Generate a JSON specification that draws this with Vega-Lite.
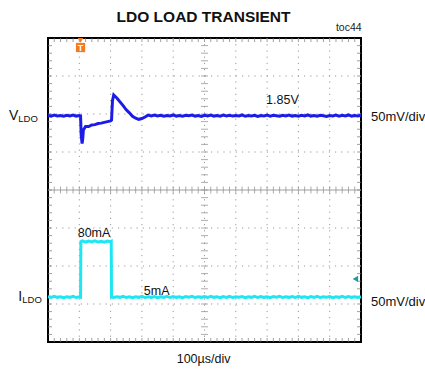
{
  "$schema": "https://vega.github.io/schema/vega-lite/v6.json",
  "width": 313,
  "height": 304,
  "autosize": {"type": "none"},
  "padding": {"left": 48, "top": 38, "right": 64, "bottom": 28},
  "background": "white",
  "config": {"view": {"stroke": "#000000", "strokeWidth": 2}, "font": "Liberation Sans"},
  "datasets": {
    "gx": [{"p": 1}, {"p": 2}, {"p": 3}, {"p": 4}, {"p": 5}, {"p": 6}, {"p": 7}, {"p": 8}, {"p": 9}],
    "gy": [{"p": 1}, {"p": 2}, {"p": 3}, {"p": 5}, {"p": 6}, {"p": 7}],
    "mx": [{"p":0.2},{"p":0.4},{"p":0.6},{"p":0.8},{"p":1},{"p":1.2},{"p":1.4},{"p":1.6},{"p":1.8},{"p":2},{"p":2.2},{"p":2.4},{"p":2.6},{"p":2.8},{"p":3},{"p":3.2},{"p":3.4},{"p":3.6},{"p":3.8},{"p":4},{"p":4.2},{"p":4.4},{"p":4.6},{"p":4.8},{"p":5},{"p":5.2},{"p":5.4},{"p":5.6},{"p":5.8},{"p":6},{"p":6.2},{"p":6.4},{"p":6.6},{"p":6.8},{"p":7},{"p":7.2},{"p":7.4},{"p":7.6},{"p":7.8},{"p":8},{"p":8.2},{"p":8.4},{"p":8.6},{"p":8.8},{"p":9},{"p":9.2},{"p":9.4},{"p":9.6},{"p":9.8}],
    "my": [{"p":0.2},{"p":0.4},{"p":0.6},{"p":0.8},{"p":1},{"p":1.2},{"p":1.4},{"p":1.6},{"p":1.8},{"p":2},{"p":2.2},{"p":2.4},{"p":2.6},{"p":2.8},{"p":3},{"p":3.2},{"p":3.4},{"p":3.6},{"p":3.8},{"p":4},{"p":4.2},{"p":4.4},{"p":4.6},{"p":4.8},{"p":5},{"p":5.2},{"p":5.4},{"p":5.6},{"p":5.8},{"p":6},{"p":6.2},{"p":6.4},{"p":6.6},{"p":6.8},{"p":7},{"p":7.2},{"p":7.4},{"p":7.6},{"p":7.8}],
    "trace": [
      {"ch":"V","t":0.0,"v":5.96},{"ch":"V","t":0.1,"v":5.945},{"ch":"V","t":0.2,"v":5.97},{"ch":"V","t":0.3,"v":5.95},{"ch":"V","t":0.4,"v":5.96},{"ch":"V","t":0.5,"v":5.94},{"ch":"V","t":0.6,"v":5.965},{"ch":"V","t":0.7,"v":5.95},{"ch":"V","t":0.8,"v":5.97},{"ch":"V","t":0.9,"v":5.945},{"ch":"V","t":1.0,"v":5.96},{"ch":"V","t":1.04,"v":5.95},
      {"ch":"V","t":1.06,"v":5.45},{"ch":"V","t":1.09,"v":5.22},{"ch":"V","t":1.11,"v":5.35},{"ch":"V","t":1.13,"v":5.58},{"ch":"V","t":1.16,"v":5.62},{"ch":"V","t":1.2,"v":5.67},{"ch":"V","t":1.3,"v":5.67},{"ch":"V","t":1.4,"v":5.71},{"ch":"V","t":1.5,"v":5.72},{"ch":"V","t":1.6,"v":5.75},{"ch":"V","t":1.7,"v":5.76},{"ch":"V","t":1.8,"v":5.78},{"ch":"V","t":1.9,"v":5.8},{"ch":"V","t":2.0,"v":5.82},{"ch":"V","t":2.03,"v":5.84},
      {"ch":"V","t":2.06,"v":6.35},{"ch":"V","t":2.1,"v":6.5},{"ch":"V","t":2.15,"v":6.46},{"ch":"V","t":2.2,"v":6.42},{"ch":"V","t":2.3,"v":6.32},{"ch":"V","t":2.4,"v":6.22},{"ch":"V","t":2.5,"v":6.11},{"ch":"V","t":2.6,"v":6.03},{"ch":"V","t":2.7,"v":5.94},{"ch":"V","t":2.8,"v":5.89},{"ch":"V","t":2.9,"v":5.86},{"ch":"V","t":3.0,"v":5.88},{"ch":"V","t":3.1,"v":5.92},{"ch":"V","t":3.2,"v":5.97},
      {"ch":"V","t":3.3,"v":5.95},{"ch":"V","t":3.4,"v":5.97},{"ch":"V","t":3.5,"v":5.95},{"ch":"V","t":3.6,"v":5.965},{"ch":"V","t":3.7,"v":5.94},{"ch":"V","t":3.8,"v":5.96},{"ch":"V","t":3.9,"v":5.95},{"ch":"V","t":4.0,"v":5.975},{"ch":"V","t":4.1,"v":5.945},{"ch":"V","t":4.2,"v":5.96},{"ch":"V","t":4.3,"v":5.94},{"ch":"V","t":4.4,"v":5.965},{"ch":"V","t":4.5,"v":5.955},{"ch":"V","t":4.6,"v":5.97},{"ch":"V","t":4.7,"v":5.945},{"ch":"V","t":4.8,"v":5.96},{"ch":"V","t":4.9,"v":5.935},{"ch":"V","t":5.0,"v":5.965},{"ch":"V","t":5.1,"v":5.95},{"ch":"V","t":5.2,"v":5.97},{"ch":"V","t":5.3,"v":5.945},{"ch":"V","t":5.4,"v":5.96},{"ch":"V","t":5.5,"v":5.94},{"ch":"V","t":5.6,"v":5.97},{"ch":"V","t":5.7,"v":5.95},{"ch":"V","t":5.8,"v":5.965},{"ch":"V","t":5.9,"v":5.945},{"ch":"V","t":6.0,"v":5.96},{"ch":"V","t":6.1,"v":5.95},{"ch":"V","t":6.2,"v":5.975},{"ch":"V","t":6.3,"v":5.94},{"ch":"V","t":6.4,"v":5.96},{"ch":"V","t":6.5,"v":5.95},{"ch":"V","t":6.6,"v":5.965},{"ch":"V","t":6.7,"v":5.935},{"ch":"V","t":6.8,"v":5.96},{"ch":"V","t":6.9,"v":5.95},{"ch":"V","t":7.0,"v":5.97},{"ch":"V","t":7.1,"v":5.945},{"ch":"V","t":7.2,"v":5.965},{"ch":"V","t":7.3,"v":5.955},{"ch":"V","t":7.4,"v":5.94},{"ch":"V","t":7.5,"v":5.965},{"ch":"V","t":7.6,"v":5.95},{"ch":"V","t":7.7,"v":5.97},{"ch":"V","t":7.8,"v":5.945},{"ch":"V","t":7.9,"v":5.96},{"ch":"V","t":8.0,"v":5.94},{"ch":"V","t":8.1,"v":5.965},{"ch":"V","t":8.2,"v":5.95},{"ch":"V","t":8.3,"v":5.975},{"ch":"V","t":8.4,"v":5.945},{"ch":"V","t":8.5,"v":5.96},{"ch":"V","t":8.6,"v":5.94},{"ch":"V","t":8.7,"v":5.965},{"ch":"V","t":8.8,"v":5.955},{"ch":"V","t":8.9,"v":5.935},{"ch":"V","t":9.0,"v":5.96},{"ch":"V","t":9.1,"v":5.95},{"ch":"V","t":9.2,"v":5.97},{"ch":"V","t":9.3,"v":5.945},{"ch":"V","t":9.4,"v":5.965},{"ch":"V","t":9.5,"v":5.95},{"ch":"V","t":9.6,"v":5.975},{"ch":"V","t":9.7,"v":5.945},{"ch":"V","t":9.8,"v":5.96},{"ch":"V","t":9.9,"v":5.95},{"ch":"V","t":10.0,"v":5.965},
      {"ch":"I","t":0.0,"v":1.19},{"ch":"I","t":0.1,"v":1.175},{"ch":"I","t":0.2,"v":1.2},{"ch":"I","t":0.3,"v":1.175},{"ch":"I","t":0.4,"v":1.19},{"ch":"I","t":0.5,"v":1.165},{"ch":"I","t":0.6,"v":1.19},{"ch":"I","t":0.7,"v":1.175},{"ch":"I","t":0.8,"v":1.2},{"ch":"I","t":0.9,"v":1.17},{"ch":"I","t":1.0,"v":1.19},{"ch":"I","t":1.04,"v":1.18},
      {"ch":"I","t":1.05,"v":2.64},{"ch":"I","t":1.1,"v":2.66},{"ch":"I","t":1.2,"v":2.63},{"ch":"I","t":1.3,"v":2.655},{"ch":"I","t":1.4,"v":2.635},{"ch":"I","t":1.5,"v":2.66},{"ch":"I","t":1.6,"v":2.63},{"ch":"I","t":1.7,"v":2.65},{"ch":"I","t":1.8,"v":2.625},{"ch":"I","t":1.9,"v":2.655},{"ch":"I","t":2.0,"v":2.635},{"ch":"I","t":2.02,"v":2.645},
      {"ch":"I","t":2.03,"v":1.18},{"ch":"I","t":2.1,"v":1.17},{"ch":"I","t":2.2,"v":1.19},{"ch":"I","t":2.3,"v":1.175},{"ch":"I","t":2.4,"v":1.2},{"ch":"I","t":2.5,"v":1.17},{"ch":"I","t":2.6,"v":1.19},{"ch":"I","t":2.7,"v":1.165},{"ch":"I","t":2.8,"v":1.19},{"ch":"I","t":2.9,"v":1.175},{"ch":"I","t":3.0,"v":1.2},{"ch":"I","t":3.1,"v":1.17},{"ch":"I","t":3.2,"v":1.19},{"ch":"I","t":3.3,"v":1.175},{"ch":"I","t":3.4,"v":1.195},{"ch":"I","t":3.5,"v":1.165},{"ch":"I","t":3.6,"v":1.19},{"ch":"I","t":3.7,"v":1.175},{"ch":"I","t":3.8,"v":1.2},{"ch":"I","t":3.9,"v":1.17},{"ch":"I","t":4.0,"v":1.195},{"ch":"I","t":4.1,"v":1.175},{"ch":"I","t":4.2,"v":1.19},{"ch":"I","t":4.3,"v":1.165},{"ch":"I","t":4.4,"v":1.195},{"ch":"I","t":4.5,"v":1.18},{"ch":"I","t":4.6,"v":1.2},{"ch":"I","t":4.7,"v":1.17},{"ch":"I","t":4.8,"v":1.19},{"ch":"I","t":4.9,"v":1.175},{"ch":"I","t":5.0,"v":1.195},{"ch":"I","t":5.1,"v":1.17},{"ch":"I","t":5.2,"v":1.2},{"ch":"I","t":5.3,"v":1.175},{"ch":"I","t":5.4,"v":1.19},{"ch":"I","t":5.5,"v":1.165},{"ch":"I","t":5.6,"v":1.195},{"ch":"I","t":5.7,"v":1.175},{"ch":"I","t":5.8,"v":1.2},{"ch":"I","t":5.9,"v":1.17},{"ch":"I","t":6.0,"v":1.19},{"ch":"I","t":6.1,"v":1.18},{"ch":"I","t":6.2,"v":1.195},{"ch":"I","t":6.3,"v":1.165},{"ch":"I","t":6.4,"v":1.19},{"ch":"I","t":6.5,"v":1.175},{"ch":"I","t":6.6,"v":1.2},{"ch":"I","t":6.7,"v":1.17},{"ch":"I","t":6.8,"v":1.195},{"ch":"I","t":6.9,"v":1.175},{"ch":"I","t":7.0,"v":1.19},{"ch":"I","t":7.1,"v":1.165},{"ch":"I","t":7.2,"v":1.195},{"ch":"I","t":7.3,"v":1.18},{"ch":"I","t":7.4,"v":1.2},{"ch":"I","t":7.5,"v":1.17},{"ch":"I","t":7.6,"v":1.19},{"ch":"I","t":7.7,"v":1.175},{"ch":"I","t":7.8,"v":1.195},{"ch":"I","t":7.9,"v":1.17},{"ch":"I","t":8.0,"v":1.2},{"ch":"I","t":8.1,"v":1.175},{"ch":"I","t":8.2,"v":1.19},{"ch":"I","t":8.3,"v":1.165},{"ch":"I","t":8.4,"v":1.195},{"ch":"I","t":8.5,"v":1.175},{"ch":"I","t":8.6,"v":1.2},{"ch":"I","t":8.7,"v":1.17},{"ch":"I","t":8.8,"v":1.19},{"ch":"I","t":8.9,"v":1.18},{"ch":"I","t":9.0,"v":1.195},{"ch":"I","t":9.1,"v":1.165},{"ch":"I","t":9.2,"v":1.19},{"ch":"I","t":9.3,"v":1.175},{"ch":"I","t":9.4,"v":1.2},{"ch":"I","t":9.5,"v":1.17},{"ch":"I","t":9.6,"v":1.195},{"ch":"I","t":9.7,"v":1.175},{"ch":"I","t":9.8,"v":1.19},{"ch":"I","t":9.9,"v":1.17},{"ch":"I","t":10.0,"v":1.19}
    ]
  },
  "layer": [
    {
      "data": {"name": "gx"},
      "mark": {"type": "rule", "color": "#9a9a9a", "strokeWidth": 1, "strokeDash": [1.2, 5]},
      "encoding": {"x": {"field": "p", "type": "quantitative", "scale": {"domain": [0, 10], "nice": false, "zero": false}, "axis": null}}
    },
    {
      "data": {"name": "gy"},
      "mark": {"type": "rule", "color": "#9a9a9a", "strokeWidth": 1, "strokeDash": [1.2, 5]},
      "encoding": {"y": {"field": "p", "type": "quantitative", "scale": {"domain": [0, 8], "nice": false, "zero": false}, "axis": null}}
    },
    {
      "data": {"values": [{"c": "mid"}]},
      "mark": {"type": "rule", "color": "#a0a0a0", "strokeWidth": 1},
      "encoding": {"y": {"datum": 4, "type": "quantitative", "scale": {"domain": [0, 8], "nice": false, "zero": false}, "axis": null}}
    },
    {
      "data": {"name": "mx"},
      "mark": {"type": "tick", "orient": "vertical", "size": 4, "thickness": 1, "color": "#777777", "yOffset": 2},
      "encoding": {
        "x": {"field": "p", "type": "quantitative", "scale": {"domain": [0, 10], "nice": false, "zero": false}, "axis": null},
        "y": {"datum": 8, "type": "quantitative", "scale": {"domain": [0, 8], "nice": false, "zero": false}, "axis": null}
      }
    },
    {
      "data": {"name": "mx"},
      "mark": {"type": "tick", "orient": "vertical", "size": 4, "thickness": 1, "color": "#777777", "yOffset": -2},
      "encoding": {
        "x": {"field": "p", "type": "quantitative", "scale": {"domain": [0, 10], "nice": false, "zero": false}, "axis": null},
        "y": {"datum": 0, "type": "quantitative", "scale": {"domain": [0, 8], "nice": false, "zero": false}, "axis": null}
      }
    },
    {
      "data": {"name": "mx"},
      "mark": {"type": "tick", "orient": "vertical", "size": 7, "thickness": 1, "color": "#8a8a8a"},
      "encoding": {
        "x": {"field": "p", "type": "quantitative", "scale": {"domain": [0, 10], "nice": false, "zero": false}, "axis": null},
        "y": {"datum": 4, "type": "quantitative", "scale": {"domain": [0, 8], "nice": false, "zero": false}, "axis": null}
      }
    },
    {
      "data": {"name": "my"},
      "mark": {"type": "tick", "orient": "horizontal", "size": 4, "thickness": 1, "color": "#777777", "xOffset": 2},
      "encoding": {
        "y": {"field": "p", "type": "quantitative", "scale": {"domain": [0, 8], "nice": false, "zero": false}, "axis": null},
        "x": {"datum": 0, "type": "quantitative", "scale": {"domain": [0, 10], "nice": false, "zero": false}, "axis": null}
      }
    },
    {
      "data": {"name": "my"},
      "mark": {"type": "tick", "orient": "horizontal", "size": 4, "thickness": 1, "color": "#777777", "xOffset": -2},
      "encoding": {
        "y": {"field": "p", "type": "quantitative", "scale": {"domain": [0, 8], "nice": false, "zero": false}, "axis": null},
        "x": {"datum": 10, "type": "quantitative", "scale": {"domain": [0, 10], "nice": false, "zero": false}, "axis": null}
      }
    },
    {
      "data": {"name": "my"},
      "mark": {"type": "tick", "orient": "horizontal", "size": 7, "thickness": 1, "color": "#8a8a8a"},
      "encoding": {
        "y": {"field": "p", "type": "quantitative", "scale": {"domain": [0, 8], "nice": false, "zero": false}, "axis": null},
        "x": {"datum": 5, "type": "quantitative", "scale": {"domain": [0, 10], "nice": false, "zero": false}, "axis": null}
      }
    },
    {
      "data": {"name": "trace"},
      "mark": {"type": "line", "strokeWidth": 3, "interpolate": "linear"},
      "encoding": {
        "x": {"field": "t", "type": "quantitative", "scale": {"domain": [0, 10], "nice": false, "zero": false}, "axis": null},
        "y": {"field": "v", "type": "quantitative", "scale": {"domain": [0, 8], "nice": false, "zero": false}, "axis": null},
        "color": {"field": "ch", "type": "nominal", "scale": {"domain": ["V", "I"], "range": ["#1c1ce6", "#1ee6f2"]}, "legend": null}
      }
    },
    {
      "data": {"values": [{"s": "trig"}]},
      "mark": {"type": "point", "shape": "triangle-down", "filled": true, "size": 30, "color": "#f47a1f", "opacity": 1},
      "encoding": {
        "x": {"datum": 1.04, "type": "quantitative", "scale": {"domain": [0, 10], "nice": false, "zero": false}, "axis": null},
        "y": {"datum": 7.94, "type": "quantitative", "scale": {"domain": [0, 8], "nice": false, "zero": false}, "axis": null}
      }
    },
    {
      "data": {"values": [{"s": "trig"}]},
      "mark": {"type": "point", "shape": "square", "filled": true, "size": 85, "color": "#f47a1f", "opacity": 1},
      "encoding": {
        "x": {"datum": 1.04, "type": "quantitative", "scale": {"domain": [0, 10], "nice": false, "zero": false}, "axis": null},
        "y": {"datum": 7.75, "type": "quantitative", "scale": {"domain": [0, 8], "nice": false, "zero": false}, "axis": null}
      }
    },
    {
      "data": {"values": [{"label": "T"}]},
      "mark": {"type": "text", "color": "white", "fontSize": 9, "fontWeight": "bold", "align": "center", "baseline": "middle"},
      "encoding": {
        "x": {"datum": 1.04, "type": "quantitative", "scale": {"domain": [0, 10], "nice": false, "zero": false}, "axis": null},
        "y": {"datum": 7.75, "type": "quantitative", "scale": {"domain": [0, 8], "nice": false, "zero": false}, "axis": null},
        "text": {"field": "label"}
      }
    },
    {
      "data": {"values": [{"s": "gnd"}]},
      "mark": {"type": "point", "shape": "triangle-left", "filled": true, "size": 40, "color": "#1a9ca4", "opacity": 1},
      "encoding": {
        "x": {"datum": 9.82, "type": "quantitative", "scale": {"domain": [0, 10], "nice": false, "zero": false}, "axis": null},
        "y": {"datum": 1.66, "type": "quantitative", "scale": {"domain": [0, 8], "nice": false, "zero": false}, "axis": null}
      }
    },
    {
      "data": {"values": [{"label": "LDO LOAD TRANSIENT"}]},
      "mark": {"type": "text", "font": "Liberation Sans", "fontSize": 15.5, "fontWeight": "bold", "align": "center", "baseline": "alphabetic", "color": "#111111"},
      "encoding": {
        "x": {"datum": 4.97, "type": "quantitative", "scale": {"domain": [0, 10], "nice": false, "zero": false}, "axis": null},
        "y": {"datum": 8.42, "type": "quantitative", "scale": {"domain": [0, 8], "nice": false, "zero": false}, "axis": null},
        "text": {"field": "label"}
      }
    },
    {
      "data": {"values": [{"label": "toc44"}]},
      "mark": {"type": "text", "fontSize": 10.5, "align": "right", "baseline": "alphabetic", "color": "#222222"},
      "encoding": {
        "x": {"datum": 10.02, "type": "quantitative", "scale": {"domain": [0, 10], "nice": false, "zero": false}, "axis": null},
        "y": {"datum": 8.18, "type": "quantitative", "scale": {"domain": [0, 8], "nice": false, "zero": false}, "axis": null},
        "text": {"field": "label"}
      }
    },
    {
      "data": {"values": [{"label": "V"}]},
      "mark": {"type": "text", "fontSize": 14, "align": "left", "baseline": "alphabetic", "color": "#111111"},
      "encoding": {
        "x": {"datum": -1.25, "type": "quantitative", "scale": {"domain": [0, 10], "nice": false, "zero": false}, "axis": null},
        "y": {"datum": 5.84, "type": "quantitative", "scale": {"domain": [0, 8], "nice": false, "zero": false}, "axis": null},
        "text": {"field": "label"}
      }
    },
    {
      "data": {"values": [{"label": "LDO"}]},
      "mark": {"type": "text", "fontSize": 9.5, "align": "left", "baseline": "alphabetic", "color": "#111111"},
      "encoding": {
        "x": {"datum": -0.95, "type": "quantitative", "scale": {"domain": [0, 10], "nice": false, "zero": false}, "axis": null},
        "y": {"datum": 5.8, "type": "quantitative", "scale": {"domain": [0, 8], "nice": false, "zero": false}, "axis": null},
        "text": {"field": "label"}
      }
    },
    {
      "data": {"values": [{"label": "I"}]},
      "mark": {"type": "text", "fontSize": 14, "align": "left", "baseline": "alphabetic", "color": "#111111"},
      "encoding": {
        "x": {"datum": -0.95, "type": "quantitative", "scale": {"domain": [0, 10], "nice": false, "zero": false}, "axis": null},
        "y": {"datum": 1.07, "type": "quantitative", "scale": {"domain": [0, 8], "nice": false, "zero": false}, "axis": null},
        "text": {"field": "label"}
      }
    },
    {
      "data": {"values": [{"label": "LDO"}]},
      "mark": {"type": "text", "fontSize": 9.5, "align": "left", "baseline": "alphabetic", "color": "#111111"},
      "encoding": {
        "x": {"datum": -0.82, "type": "quantitative", "scale": {"domain": [0, 10], "nice": false, "zero": false}, "axis": null},
        "y": {"datum": 1.03, "type": "quantitative", "scale": {"domain": [0, 8], "nice": false, "zero": false}, "axis": null},
        "text": {"field": "label"}
      }
    },
    {
      "data": {"values": [{"label": "50mV/div"}]},
      "mark": {"type": "text", "fontSize": 13, "align": "left", "baseline": "alphabetic", "color": "#111111"},
      "encoding": {
        "x": {"datum": 10.32, "type": "quantitative", "scale": {"domain": [0, 10], "nice": false, "zero": false}, "axis": null},
        "y": {"datum": 5.82, "type": "quantitative", "scale": {"domain": [0, 8], "nice": false, "zero": false}, "axis": null},
        "text": {"field": "label"}
      }
    },
    {
      "data": {"values": [{"label": "50mV/div"}]},
      "mark": {"type": "text", "fontSize": 13, "align": "left", "baseline": "alphabetic", "color": "#111111"},
      "encoding": {
        "x": {"datum": 10.32, "type": "quantitative", "scale": {"domain": [0, 10], "nice": false, "zero": false}, "axis": null},
        "y": {"datum": 0.95, "type": "quantitative", "scale": {"domain": [0, 8], "nice": false, "zero": false}, "axis": null},
        "text": {"field": "label"}
      }
    },
    {
      "data": {"values": [{"label": "1.85V"}]},
      "mark": {"type": "text", "fontSize": 12.5, "align": "center", "baseline": "alphabetic", "color": "#111111"},
      "encoding": {
        "x": {"datum": 7.49, "type": "quantitative", "scale": {"domain": [0, 10], "nice": false, "zero": false}, "axis": null},
        "y": {"datum": 6.26, "type": "quantitative", "scale": {"domain": [0, 8], "nice": false, "zero": false}, "axis": null},
        "text": {"field": "label"}
      }
    },
    {
      "data": {"values": [{"label": "80mA"}]},
      "mark": {"type": "text", "fontSize": 12.5, "align": "center", "baseline": "alphabetic", "color": "#111111"},
      "encoding": {
        "x": {"datum": 1.47, "type": "quantitative", "scale": {"domain": [0, 10], "nice": false, "zero": false}, "axis": null},
        "y": {"datum": 2.77, "type": "quantitative", "scale": {"domain": [0, 8], "nice": false, "zero": false}, "axis": null},
        "text": {"field": "label"}
      }
    },
    {
      "data": {"values": [{"label": "5mA"}]},
      "mark": {"type": "text", "fontSize": 12.5, "align": "center", "baseline": "alphabetic", "color": "#111111"},
      "encoding": {
        "x": {"datum": 3.47, "type": "quantitative", "scale": {"domain": [0, 10], "nice": false, "zero": false}, "axis": null},
        "y": {"datum": 1.25, "type": "quantitative", "scale": {"domain": [0, 8], "nice": false, "zero": false}, "axis": null},
        "text": {"field": "label"}
      }
    },
    {
      "data": {"values": [{"label": "100µs/div"}]},
      "mark": {"type": "text", "fontSize": 12.5, "align": "center", "baseline": "alphabetic", "color": "#111111"},
      "encoding": {
        "x": {"datum": 4.97, "type": "quantitative", "scale": {"domain": [0, 10], "nice": false, "zero": false}, "axis": null},
        "y": {"datum": -0.55, "type": "quantitative", "scale": {"domain": [0, 8], "nice": false, "zero": false}, "axis": null},
        "text": {"field": "label"}
      }
    }
  ]
}
